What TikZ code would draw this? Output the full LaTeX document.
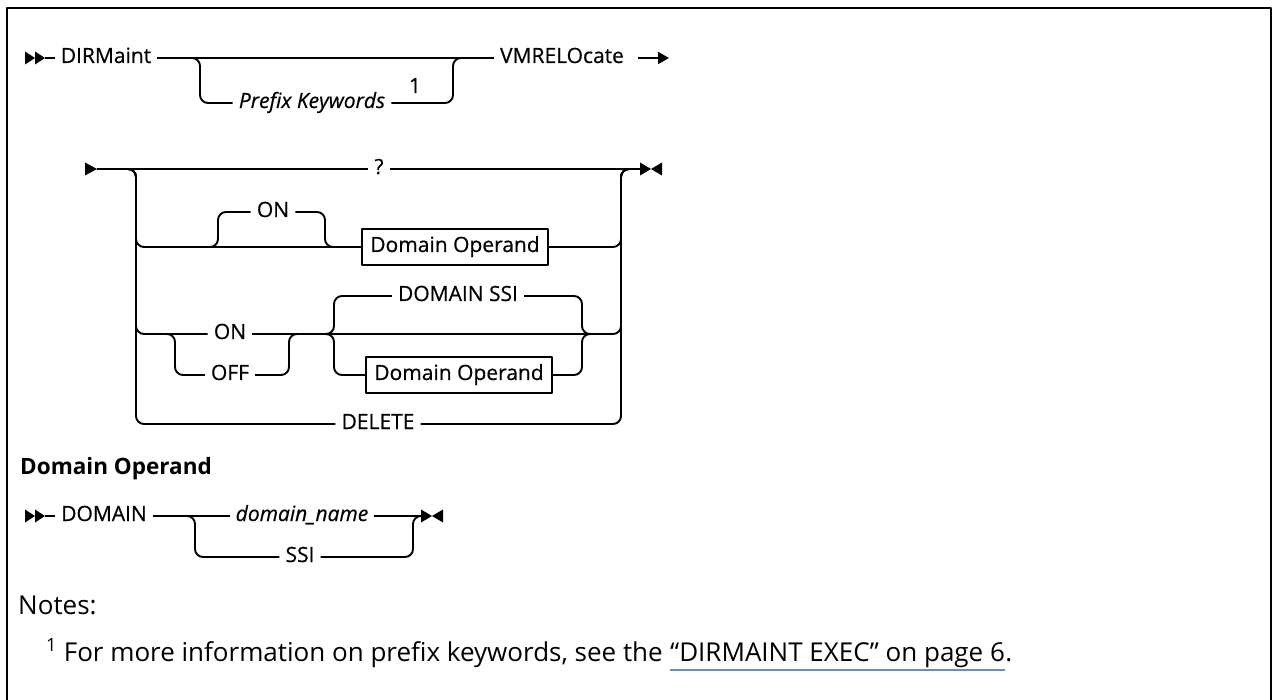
\documentclass[tikz,border=0pt]{standalone}
\usepackage{fontspec}
\setmainfont{Open Sans}
\newfontfamily\diafont{Open Sans}[FakeBold=0.5]
\usetikzlibrary{arrows.meta}

\definecolor{linkblue}{RGB}{105,140,200}

\tikzset{
    rail/.style={line width=1.9pt,rounded corners=8pt},
    kw/.style={font=\diafont\fontsize{21}{24}\selectfont,inner xsep=6pt,inner ysep=0pt,
        text height=15pt,text depth=5pt},
    var/.style={kw,font=\diafont\fontsize{21}{24}\selectfont\itshape},
    opbox/.style={kw,draw,line width=1.9pt,inner xsep=8pt,inner ysep=8pt,fill=white},
    notetxt/.style={font=\fontsize{26}{30}\selectfont,inner sep=0pt,anchor=base west}
}

\begin{document}
\begin{tikzpicture}[x=1pt,y=-1pt,line join=round]
        \def\xL{136}
        \def\xR{621}
        \useasboundingbox (0,0) rectangle (1274,700);

        % Marco
        \draw[line width=2.8pt] (7,700) -- (7,8) -- (1271,8) -- (1271,700);

        % Fila 1: DIRMaint ... VMRELOcate
        \fill (25,51.5) -- (35,58) -- (25,64.5) -- cycle;
        \fill (35,51.5) -- (45,58) -- (35,64.5) -- cycle;
        \coordinate (r1start) at (45,58);
        \node[kw] (dirm) at (106,58) {DIRMaint};
        \node[var] (prefix) at (312,103) {Prefix Keywords};
        \node[font=\diafont\fontsize{21}{24}\selectfont,inner sep=0pt,anchor=base]
            (fn1) at (415,93) {1};
        \node[kw] (vmrel) at (562,58) {VMRELOcate};
        \coordinate (p1) at (200,58);
        \coordinate (p2) at (453,58);
        \coordinate (r1arr) at (638,58);
        \coordinate (r1end) at (669,58);
        \draw[rail] (r1start) -- (dirm.west);
        \draw[rail] (dirm.east) -- (vmrel.west);
        \draw[rail] (dirm.east) -- (p1) |- (prefix.west);
        \draw[rail] (prefix.east) -| (p2) -- (vmrel.west);
        \draw[rail,-{Triangle[length=11pt,width=12pt]}] (r1arr) -- (r1end);

        % Fila 2: alternativas entre los carriles
        \fill (85,162.5) -- (97,169) -- (85,175.5) -- cycle;
        \coordinate (r2start) at (97,169);
        \coordinate (r2end) at (640,169);
        \coordinate (lrail) at (\xL,169);
        \coordinate (rrail) at (\xR,169);
        \node[kw] (q) at (379,169) {?};
        \node[kw] (on1) at (273,212) {ON};
        \node[opbox] (dop1) at (455,247) {Domain Operand};
        \node[kw] (dssi) at (458,296) {DOMAIN SSI};
        \node[kw] (on2) at (230,334) {ON};
        \node[kw] (off) at (230,375) {OFF};
        \node[opbox] (dop2) at (459,375) {Domain Operand};
        \node[kw] (del) at (378,424) {DELETE};

        \coordinate (lrow2) at (160,247);
        \coordinate (a1) at (218,247);
        \coordinate (a2) at (325,247);
        \coordinate (lrow3) at (155,334);
        \coordinate (b1) at (175,334);
        \coordinate (b2) at (289,334);
        \coordinate (c1) at (334,334);
        \coordinate (c2) at (582,334);
        \coordinate (rrow3) at (600,334);

        \draw[rail] (r2start) -- (q.west);
        \draw[rail] (q.east) -- (r2end);
        \draw[rail] (r2start) -- (lrail) |- (dop1.west);
        \draw[rail] (lrow2) -- (a1) |- (on1.west);
        \draw[rail] (on1.east) -| (a2) -- (dop1.west);
        \draw[rail] (dop1.east) -| (rrail) -- (r2end);
        \draw[rail] (r2start) -- (lrail) |- (on2.west);
        \draw[rail] (lrow3) -- (b1) |- (off.west);
        \draw[rail] (off.east) -| (b2) -- (c1);
        \draw[rail] (on2.east) -| (rrail) -- (r2end);
        \draw[rail] (on2.east) -- (c1) |- (dssi.west);
        \draw[rail] (on2.east) -- (c1) |- (dop2.west);
        \draw[rail] (dssi.east) -| (c2) -- (rrow3);
        \draw[rail] (dop2.east) -| (c2) -- (rrow3);
        \draw[rail] (r2start) -- (lrail) |- (del.west);
        \draw[rail] (del.east) -| (rrail) -- (r2end);
        \fill (640,162.5) -- (651,169) -- (640,175.5) -- cycle;
        \fill (662,162.5) -- (651,169) -- (662,175.5) -- cycle;

        % Fragmento Domain Operand
        \node[font=\fontsize{22.5}{26}\selectfont\bfseries,inner sep=0pt,anchor=base west]
            (dohead) at (20,474) {Domain Operand};
        \fill (25,509.5) -- (35,516) -- (25,522.5) -- cycle;
        \fill (35,509.5) -- (45,516) -- (35,522.5) -- cycle;
        \coordinate (r3start) at (45,516);
        \node[kw] (dom) at (104,516) {DOMAIN};
        \node[var] (dname) at (302,516) {domain\_name};
        \node[kw] (ssi) at (300,557) {SSI};
        \coordinate (d1) at (195,516);
        \coordinate (d2) at (413,516);
        \coordinate (r3end) at (421,516);
        \draw[rail] (r3start) -- (dom.west);
        \draw[rail] (dom.east) -- (dname.west);
        \draw[rail] (dom.east) -- (d1) |- (ssi.west);
        \draw[rail] (dname.east) -- (r3end);
        \draw[rail] (ssi.east) -| (d2) -- (r3end);
        \fill (421,509.5) -- (432,516) -- (421,522.5) -- cycle;
        \fill (443,509.5) -- (432,516) -- (443,522.5) -- cycle;

        % Notas
        \node[notetxt] (notes) at (18,614) {Notes:};
        \node[notetxt] (fnpre) at (46,661)
            {\textsuperscript{1} For more information on prefix keywords, see the};
        \node[notetxt] (fnlink) at ([xshift=7pt]fnpre.base east)
            {“DIRMAINT EXEC” on page 6};
        \node[notetxt] (fnend) at (fnlink.base east) {.};
        \draw[linkblue,line width=1.4pt]
            ([yshift=-9pt]fnlink.base west) -- ([yshift=-9pt]fnlink.base east);
    \end{tikzpicture}
\end{document}
